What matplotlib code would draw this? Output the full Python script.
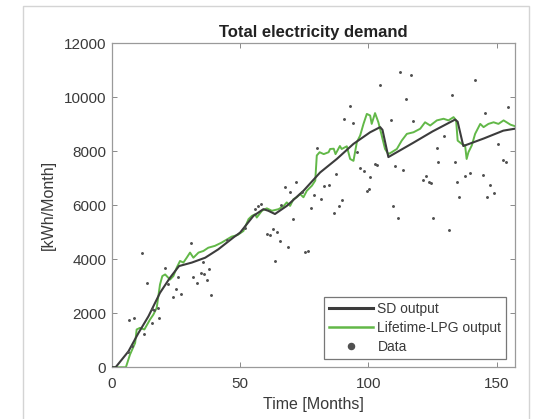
import numpy as np
import matplotlib
matplotlib.use("Agg")
import matplotlib.pyplot as plt
from matplotlib.patches import Rectangle

plt.rcParams['font.family'] = ['Liberation Sans', 'DejaVu Sans']

# SD output (black line)
sd_t = [0, 1.5, 6.5, 10.4, 14.3, 18.8, 22.7, 26.2, 31.2, 36.4, 41.5, 47.4, 50, 55.2,
        59.1, 61, 63.6, 68.2, 74.7, 81.2, 87.7, 94.2, 100.7, 104.6, 105.5, 107.8,
        117.5, 125, 133.8, 134.8, 137, 145, 152.6, 157]
sd_y = [0, 0, 590, 1270, 1890, 2760, 3320, 3750, 3880, 4060, 4370, 4810, 4990, 5610,
        5860, 5800, 5680, 5980, 6540, 7220, 7720, 8280, 8710, 8900, 8800, 7790,
        8320, 8740, 9180, 9100, 8200, 8480, 8770, 8840]

# Lifetime-LPG output (green line)
lpg_t = [0, 5.5, 7.1, 9.1, 9.7, 11, 12.7, 14.9, 16.2, 17.5, 18.8, 19.7, 20.8, 22.7, 24,
         25.3, 26.6, 27.9, 29.2, 30.5, 31.8, 33.8, 35.7, 37.6, 40.2, 42.8, 46.7, 49,
         51.3, 53.3, 54.6, 55.9, 56.5, 58.5, 60.4, 62.4, 65, 67, 68.2, 69.5, 70.8,
         72.1, 73.4, 74.7, 76, 78, 79.3, 79.9, 81, 82.6, 84.5, 85.1, 86.5, 87.2, 88.9,
         89.6, 91.6, 92.9, 94.2, 95.5, 96.8, 98.1, 99.4, 100.7, 101.3, 102.6, 103.9,
         105.2, 106.5, 107.8, 109.1, 111.1, 113, 115, 117.6, 120.2, 122.1, 124.1,
         126.7, 129.3, 131.2, 133.2, 134.2, 134.8, 136.4, 137.7, 138.3, 139, 140.3,
         141.6, 143.6, 144.9, 146.8, 148.8, 150.7, 152.7, 155.4, 157]
lpg_y = [0, 0, 470, 900, 1400, 1460, 1400, 1770, 1950, 2200, 3070, 3380, 3440, 3250, 3380,
         3690, 3940, 3880, 4060, 4250, 4060, 4250, 4310, 4430, 4500, 4620, 4840, 4900,
         5050, 5490, 5610, 5670, 5550, 5800, 5890, 5800, 5860, 5980, 6110, 5980, 6230,
         6300, 6420, 6300, 6540, 6730, 6920, 7850, 7970, 7900, 7970, 8090, 8100, 7900, 8200,
         8090, 8190, 7720, 7650, 8340, 8590, 9020, 9390, 9330, 9020, 9420, 9080,
         8590, 8090, 7900, 7970, 8090, 8400, 8650, 8710, 8840, 9080, 8960,
         9150, 9210, 9150, 9270, 9150, 8400, 8280, 8220, 7720, 7970, 8220,
         8650, 9020, 8900, 9020, 9080, 9020, 9150, 8990, 8940]

# measured data (dots)
data_t = [6.7, 8.8, 11.7, 13.6, 15.6, 16.6, 15.6, 18.4, 18.2, 20.8, 24.0, 25.1, 25.7, 27.0,
          30.9, 31.8, 33.1, 34.8, 36.1, 37.0, 37.9, 38.7, 35.7, 6.5, 7.8, 12.5, 22.0,
          55.8, 57.1, 58.1, 60.4, 61.5, 62.7, 64.5, 65.6, 68.8, 63.6, 67.5, 69.5, 71.8,
          70.5, 75.3, 76.6, 77.5, 78.8, 79.9, 81.4, 82.7, 84.8, 86.6, 87.4, 88.7, 89.6,
          90.5, 92.7, 93.9, 95.5, 96.8, 98.3, 99.4, 100.2, 100.7, 102.6, 103.3,
          104.6, 108.7, 109.5, 110.4, 111.7, 112.4, 113.6, 114.7, 116.6, 117.5,
          121.4, 122.5, 123.6, 124.5, 125.3, 126.7, 127.3, 129.5, 131.6, 132.5,
          133.8, 134.4, 135.5, 137.7, 139.6, 141.6, 144.6, 145.5, 146.4, 147.4,
          149.0, 150.7, 152.4, 153.7, 154.5, 45.0, 52.0, 66.0, 74.0]
data_y = [1740, 1830, 4250, 3110, 2170, 2120, 1640, 1820, 2200, 3690, 2610, 2910, 3360, 2710,
          4590, 3360, 3110, 3480, 3440, 3230, 3650, 2660, 3900, 550, 780, 1250, 3100,
          5860, 5960, 6060, 4930, 4890, 5110, 5030, 4680, 4470, 3940, 6670, 6510, 6870,
          5490, 4270, 4300, 5920, 6380, 8120, 6230, 6730, 6760, 5710, 7160, 5980, 6210,
          9200, 9700, 9050, 7970, 7380, 7270, 6540, 6600, 7060, 7550, 7500,
          10480, 9150, 5960, 7450, 5520, 10950, 7300, 9930, 10850, 9130,
          6950, 7080, 6880, 6830, 5550, 8120, 7600, 8560, 5080, 10090,
          7620, 6880, 6320, 7080, 7200, 10630, 7130, 9430, 6300, 6750,
          6450, 8280, 7700, 7600, 9650, 4700, 5150, 6000, 6480]

fig = plt.figure(figsize=(5.4, 4.19), dpi=100)
# light frame round the whole figure (cut off at the bottom)
fig.patches.append(Rectangle((23 / 540, -0.02), 506 / 540, 1.02 - 6.5 / 419,
                             transform=fig.transFigure, fill=False,
                             edgecolor='#d4d4d4', lw=1.0))

ax = fig.add_axes([0.207, 0.1235, 0.746, 0.7727])
ax.plot(sd_t, sd_y, color='#3c3c3c', lw=1.5, label='SD output', zorder=3)
ax.plot(lpg_t, lpg_y, color='#62b848', lw=1.4, label='Lifetime-LPG output', zorder=2)
ax.plot(data_t, data_y, ls='none', marker='.', ms=2.2, color='#505050',
        label='Data', zorder=4)

ax.set_xlim(0, 157)
ax.set_ylim(0, 12000)
ax.set_xticks([0, 50, 100, 150])
ax.set_yticks(np.arange(0, 12001, 2000))
ax.tick_params(direction='in', length=3.5, width=0.7, top=True, right=True,
               colors='#8a8a8a', labelcolor='#3a3a3a', labelsize=11, pad=4)
ax.tick_params(axis='x', pad=7)
for s in ax.spines.values():
    s.set_color('#9a9a9a')
    s.set_linewidth(0.9)

ax.set_title('Total electricity demand', fontsize=12, fontweight='bold',
             color='#222222', pad=5)
ax.set_xlabel('Time [Months]', fontsize=11.5, color='#3a3a3a', labelpad=4)
ax.set_ylabel('[kWh/Month]', fontsize=11.5, color='#3a3a3a', labelpad=6)

leg = ax.legend(loc='lower right', fontsize=10, frameon=True, fancybox=False,
                borderaxespad=0.6, handlelength=3.2, handletextpad=0.3,
                labelspacing=0.35, markerscale=4.0, borderpad=0.35)
leg.get_frame().set_edgecolor('#555555')
leg.get_frame().set_linewidth(0.9)
for t in leg.get_texts():
    t.set_color('#3a3a3a')
leg.get_lines()[0].set_linewidth(2.2)
leg.get_lines()[1].set_linewidth(1.8)

fig.savefig('out.png', dpi=100)
